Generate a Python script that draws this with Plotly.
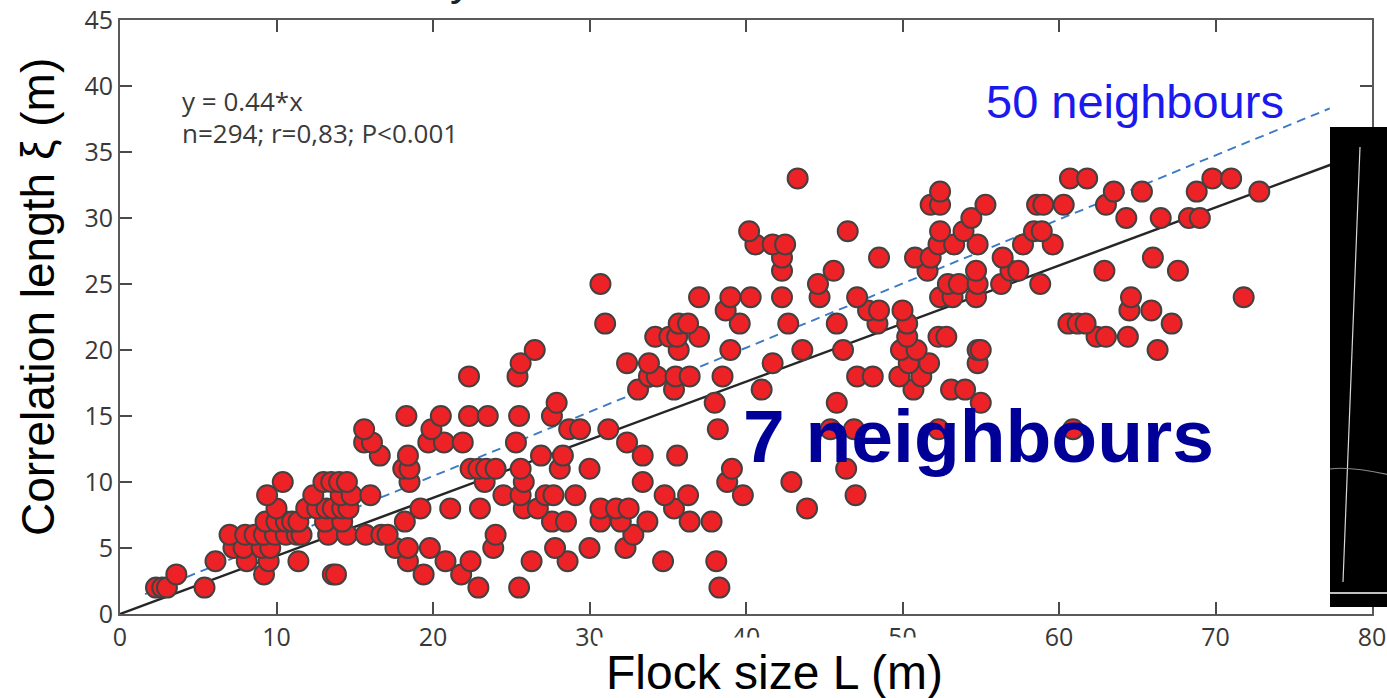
import plotly.graph_objects as go

# Flock size L (m) and correlation length xi (m), grouped by xi level
flock_size_L = [
    2.3, 2.7, 3.0, 5.4, 22.9, 25.5, 38.3,
    3.6, 9.2, 13.6, 13.8, 19.4, 21.8,
    6.1, 8.1, 9.5, 11.4, 18.4, 20.8, 22.4, 26.3, 28.6, 34.7, 38.1,
    7.25, 7.9, 9.05, 9.6, 17.6, 18.4, 19.8, 23.85, 27.8, 30.0, 32.3,
    7.0, 8.0, 8.6, 9.2, 9.9, 10.6, 11.3, 11.6, 13.3, 14.5, 15.7, 16.7, 17.1, 24.0, 32.8,
    9.3, 10.0, 10.6, 11.0, 11.4, 13.1, 14.2, 18.2, 27.6, 28.5, 30.7, 32.0, 33.7, 36.4, 37.8,
    10.0, 11.9, 12.6, 13.2, 13.6, 14.2, 14.6, 19.2, 21.1, 23.0, 25.8, 26.7, 30.7, 31.7, 32.5, 35.4, 43.9,
    9.4, 12.35, 14.1, 14.8, 16.0, 24.5, 25.6, 27.2, 27.7, 29.1, 34.8, 36.3, 39.8, 47.0,
    10.4, 13.0, 13.5, 14.0, 14.5, 18.5, 23.3, 25.8, 33.4, 38.8, 42.9,
    18.1, 18.5, 22.4, 22.9, 23.4, 24.0, 25.6, 28.1, 30.0, 39.1, 46.4,
    16.6, 18.4, 26.9, 28.3, 33.4, 35.6,
    15.6, 16.1, 19.7, 20.7, 21.9, 25.3, 32.4,
    15.6, 19.9, 28.7, 29.4, 31.2, 38.2, 45.4, 46.9, 52.3, 60.9,
    18.3, 20.5, 22.3, 23.5, 25.5, 27.6,
    27.9, 38.0, 45.8, 55.0,
    33.1, 35.4, 41.0, 50.7, 53.1, 54.0,
    22.3, 25.4, 33.8, 34.3, 35.5, 36.4, 38.5, 47.1, 48.1, 49.8, 51.2,
    25.6, 32.4, 33.8, 41.7, 50.4, 51.7, 54.8,
    26.5, 35.7, 39.0, 43.6, 46.2, 49.9, 50.9, 54.8, 55.0, 66.3,
    34.2, 35.1, 35.6, 37.0, 50.3, 52.3, 52.8, 62.4, 63.0, 64.4,
    31.0, 35.7, 36.3, 39.6, 42.7, 45.8, 48.4, 50.3, 60.6, 61.2, 61.7, 67.2,
    38.7, 47.8, 48.5, 50.0, 64.5, 65.9,
    37.0, 39.0, 40.3, 42.3, 44.7, 47.1, 52.4, 53.2, 54.7, 64.6, 71.8,
    30.7, 44.6, 52.9, 53.6, 54.8, 56.3, 58.8,
    42.3, 45.6, 51.6, 54.7, 56.9, 57.4, 62.9, 67.6,
    42.3, 48.5, 50.8, 51.8, 56.4, 66.0,
    40.6, 41.7, 42.5, 52.3, 53.3, 54.8, 57.7, 59.6,
    40.2, 46.5, 52.4, 53.9, 58.4, 58.9,
    54.4, 64.3, 66.5, 68.3, 69.0,
    51.8, 52.4, 55.3, 58.6, 59.0, 60.3, 63.0,
    52.4, 63.5, 65.3, 68.8, 72.8,
    43.3, 60.7, 61.8, 69.8, 71.0,
]
correlation_xi = [
    2, 2, 2, 2, 2, 2, 2,
    3, 3, 3, 3, 3, 3,
    4, 4, 4, 4, 4, 4, 4, 4, 4, 4, 4,
    5, 5, 5, 5, 5, 5, 5, 5, 5, 5, 5,
    6, 6, 6, 6, 6, 6, 6, 6, 6, 6, 6, 6, 6, 6, 6,
    7, 7, 7, 7, 7, 7, 7, 7, 7, 7, 7, 7, 7, 7, 7,
    8, 8, 8, 8, 8, 8, 8, 8, 8, 8, 8, 8, 8, 8, 8, 8, 8,
    9, 9, 9, 9, 9, 9, 9, 9, 9, 9, 9, 9, 9, 9,
    10, 10, 10, 10, 10, 10, 10, 10, 10, 10, 10,
    11, 11, 11, 11, 11, 11, 11, 11, 11, 11, 11,
    12, 12, 12, 12, 12, 12,
    13, 13, 13, 13, 13, 13, 13,
    14, 14, 14, 14, 14, 14, 14, 14, 14, 14,
    15, 15, 15, 15, 15, 15,
    16, 16, 16, 16,
    17, 17, 17, 17, 17, 17,
    18, 18, 18, 18, 18, 18, 18, 18, 18, 18, 18,
    19, 19, 19, 19, 19, 19, 19,
    20, 20, 20, 20, 20, 20, 20, 20, 20, 20,
    21, 21, 21, 21, 21, 21, 21, 21, 21, 21,
    22, 22, 22, 22, 22, 22, 22, 22, 22, 22, 22, 22,
    23, 23, 23, 23, 23, 23,
    24, 24, 24, 24, 24, 24, 24, 24, 24, 24, 24,
    25, 25, 25, 25, 25, 25, 25,
    26, 26, 26, 26, 26, 26, 26, 26,
    27, 27, 27, 27, 27, 27,
    28, 28, 28, 28, 28, 28, 28, 28,
    29, 29, 29, 29, 29, 29,
    30, 30, 30, 30, 30,
    31, 31, 31, 31, 31, 31, 31,
    32, 32, 32, 32, 32,
    33, 33, 33, 33, 33,
]

# Fit line (7 neighbours): y = 0.44*x
fit_x = [0, 78]
fit_slope = 0.44
fit_y = [fit_slope * v for v in fit_x]

# 50 neighbours reference line (dashed)
n50_x = [1.6, 77.3]
n50_y = [1.5, 38.3]

x_ticks = [0, 10, 20, 30, 40, 50, 60, 70, 80]
y_ticks = [0, 5, 10, 15, 20, 25, 30, 35, 40, 45]

W, H = 1387, 698
ML, MR, MT, MB = 120, 15, 20, 84
PW, PH = W - ML - MR, H - MT - MB


def fx(px):
    return (px - ML) / PW


def fy(py):
    return (H - MB - py) / PH


fig = go.Figure()

fig.add_trace(go.Scatter(
    x=fit_x, y=fit_y, mode="lines",
    line=dict(color="#262626", width=2.5), hoverinfo="skip", showlegend=False,
))
fig.add_trace(go.Scatter(
    x=n50_x, y=n50_y, mode="lines",
    line=dict(color="#3b7ac4", width=1.9, dash="9px,6px"), hoverinfo="skip", showlegend=False,
))
fig.add_trace(go.Scatter(
    x=flock_size_L, y=correlation_xi, mode="markers",
    marker=dict(size=20, color="#ec2226", line=dict(color="#474040", width=2)),
    showlegend=False,
))

axis_common = dict(
    showgrid=False, zeroline=False, showline=True, linecolor="#5a5a5a", linewidth=2,
    mirror="ticks", ticks="inside", ticklen=12, tickwidth=2, tickcolor="#4a4a4a",
    tickfont=dict(family="Open Sans", size=25, color="#383838"),
    automargin=False,
)
fig.update_xaxes(range=[0, 80], tickvals=x_ticks, ticktext=[str(v) for v in x_ticks], **axis_common)
fig.update_yaxes(range=[0, 45], tickvals=y_ticks, ticktext=[str(v) for v in y_ticks], **axis_common)

annotations = [
    dict(text="y = 0.44*x", x=fx(180), y=fy(101), xanchor="left", yanchor="middle",
         font=dict(family="Open Sans", size=26, color="#3a3a3a")),
    dict(text="n=294; r=0,83; P<0.001", x=fx(180), y=fy(133), xanchor="left", yanchor="middle",
         font=dict(family="Open Sans", size=26, color="#3a3a3a")),
    dict(text="50 neighbours", x=fx(1135), y=fy(101), xanchor="center", yanchor="middle",
         font=dict(family="Liberation Sans, Arial", size=47, color="#1a1aee")),
    dict(text="<b>7 neighbours</b>", x=fx(978), y=fy(436), xanchor="center", yanchor="middle",
         font=dict(family="Liberation Sans, Arial", size=75, color="#000099")),
    dict(text="Flock size L (m)", x=fx(774), y=fy(672), xanchor="center", yanchor="middle",
         font=dict(family="Liberation Sans, Arial", size=48, color="#000000"),
         bgcolor="#ffffff", borderpad=8),
    dict(text="Correlation length ξ (m)", x=fx(38), y=fy(297), xanchor="center", yanchor="middle",
         textangle=-90, font=dict(family="Liberation Sans, Arial", size=46, color="#000000")),
    dict(text="y", x=fx(461), y=fy(-21), xanchor="center", yanchor="middle",
         font=dict(family="Liberation Sans, Arial", size=45, color="#222222")),
]
for a in annotations:
    a.update(xref="paper", yref="paper", showarrow=False)

shapes = [
    dict(type="rect", x0=fx(1330), x1=fx(1390), y0=fy(607), y1=fy(127),
         fillcolor="#000000", line=dict(width=0), layer="above"),
    dict(type="line", x0=fx(1360), x1=fx(1343), y0=fy(147), y1=fy(582),
         line=dict(color="#d8d8d8", width=1.2), layer="above"),
    dict(type="line", x0=fx(1330), x1=fx(1390), y0=fy(593), y1=fy(593),
         line=dict(color="#ffffff", width=1.5), layer="above"),
    dict(type="path", path="M {} {} Q {} {} {} {}".format(fx(1330), fy(469), fx(1350), fy(466), fx(1390), fy(475)),
         xref="paper", yref="paper", line=dict(color="#8a8a8a", width=1.2), layer="above"),
]
for s in shapes:
    s.setdefault("xref", "paper")
    s.setdefault("yref", "paper")

fig.update_layout(
    width=W, height=H,
    margin=dict(l=ML, r=MR, t=MT, b=MB, autoexpand=False),
    paper_bgcolor="#ffffff", plot_bgcolor="#ffffff",
    annotations=annotations, shapes=shapes,
    showlegend=False,
)

fig.write_html(
    "out.html",
    config={"displayModeBar": False, "staticPlot": True},
    post_script="document.body.style.margin='0';document.body.style.padding='0';document.body.style.overflow='hidden';",
)
